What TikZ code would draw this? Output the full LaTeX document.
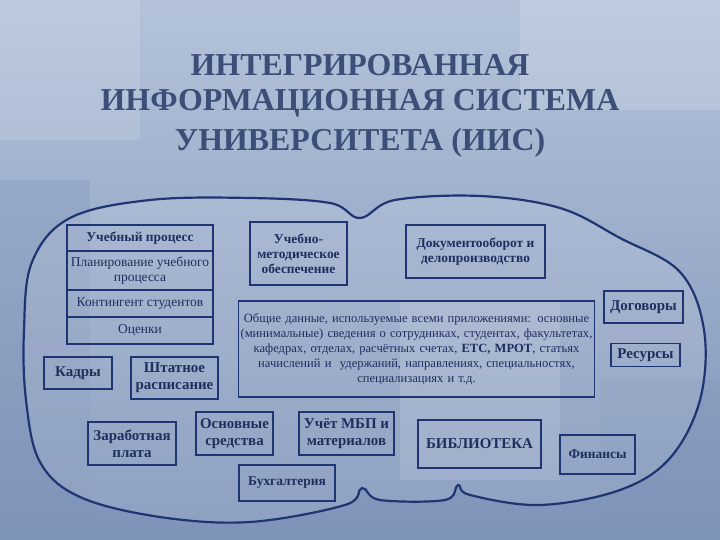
\documentclass[tikz,border=0pt]{standalone}
\usepackage{fontspec}
\setmainfont{Liberation Serif}
\begin{document}
\begin{tikzpicture}[x=1bp,y=-1bp,
  bx/.style={draw=lineblue,line width=1.6pt,align=center,inner sep=1pt,font=\fontsize{13.5}{15}\selectfont,text=textblue},
  bg/.style={font=\fontsize{15}{17}\selectfont\bfseries},
  ttl/.style={font=\fontsize{32}{36}\selectfont\bfseries,text=titleblue}]
\definecolor{lineblue}{HTML}{1E3473}
\definecolor{textblue}{HTML}{1E2E5E}
\definecolor{titleblue}{HTML}{3B4E78}
\definecolor{bgtop}{HTML}{B4C3DA}
\definecolor{bgbot}{HTML}{7E93B8}
\useasboundingbox (0,0) rectangle (720,540);
\shade[top color=bgtop,bottom color=bgbot] (0,0) rectangle (720,540);
\fill[white,opacity=0.15] (520,0) rectangle (720,110);
\fill[white,opacity=0.12] (0,0) rectangle (140,140);
\fill[bgbot,opacity=0.3] (0,180) rectangle (90,540);
\fill[white,opacity=0.12] (400,300) rectangle (560,480);
\fill[bgbot,opacity=0.25] (600,380) rectangle (720,540);
% title
\node[ttl] (t1) at (360,65) {ИНТЕГРИРОВАННАЯ};
\node[ttl] (t2) at (360,103) {ИНФОРМАЦИОННАЯ СИСТЕМА};
\node[ttl] (t3) at (360,143) {УНИВЕРСИТЕТА (ИИС)};
% cloud
\draw[lineblue,line width=2.2pt,fill=white,fill opacity=0.12] plot[smooth cycle,tension=0.6] coordinates{
(24,330)(32,262)(70,218)(150,200)(250,198)(330,203)(360,218)(395,200)(480,196)(560,208)(620,238)(680,272)(704,330)(700,400)(670,458)(620,490)(540,505)(470,495)(458,485)(445,500)(380,500)(362,488)(345,505)(250,522)(160,517)(80,497)(40,462)(26,400)};
% boxes
\node[bx,minimum width=146,minimum height=26] (a1) at (140,238) {\textbf{Учебный процесс}};
\node[bx,minimum width=146,minimum height=39] (a2) at (140,270.5) {Планирование учебного\\процесса};
\node[bx,minimum width=146,minimum height=27] (a3) at (140,303.5) {Контингент студентов};
\node[bx,minimum width=146,minimum height=27] (a4) at (140,330.5) {Оценки};
\node[bx,minimum width=97,minimum height=63] (um) at (298.5,253.5) {\textbf{Учебно-}\\\textbf{методическое}\\\textbf{обеспечение}};
\node[bx,minimum width=139,minimum height=53] (doc) at (475.5,251.5) {\textbf{Документооборот и}\\\textbf{делопроизводство}};
\node[bx,text width=355,minimum height=96,font=\fontsize{12.6}{15}\selectfont] (ob) at (416.5,349) {Общие данные, используемые всеми приложениями: основные\\(минимальные) сведения о сотрудниках, студентах, факультетах,\\кафедрах, отделах, расчётных счетах, \textbf{ЕТС, МРОТ}, статьях\\начислений и\ \ удержаний, направлениях, специальностях,\\специализациях и т.д.};
\node[bx,minimum width=79,minimum height=32,bg] (dog) at (643.5,307) {Договоры};
\node[bx,minimum width=69,minimum height=23,bg] (res) at (645.5,355) {Ресурсы};
\node[bx,minimum width=68,minimum height=32,bg] (kad) at (78,373) {Кадры};
\node[bx,minimum width=87,minimum height=42,bg] (sht) at (174.5,378) {Штатное\\расписание};
\node[bx,minimum width=88,minimum height=43,bg] (zar) at (132,443.5) {Заработная\\плата};
\node[bx,minimum width=77,minimum height=43,bg] (os) at (234.5,433.5) {Основные\\средства};
\node[bx,minimum width=95,minimum height=43,bg] (mbp) at (346.5,433.5) {Учёт МБП и\\материалов};
\node[bx,line width=2.4pt,minimum width=123,minimum height=48,bg] (bib) at (479.5,444) {БИБЛИОТЕКА};
\node[bx,minimum width=75,minimum height=39,font=\fontsize{13.5}{15}\selectfont\bfseries] (fin) at (597.5,454.5) {Финансы};
\node[bx,minimum width=96,minimum height=36,font=\fontsize{13.5}{15}\selectfont\bfseries] (buh) at (287,483) {Бухгалтерия};
\end{tikzpicture}
\end{document}
